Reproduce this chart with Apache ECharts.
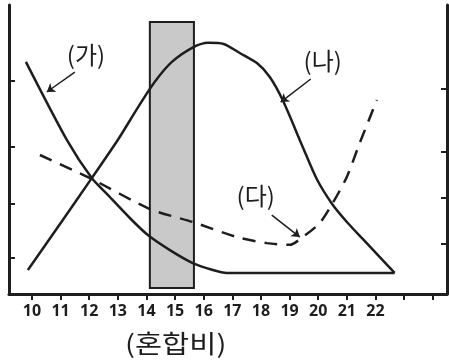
<!DOCTYPE html>
<html style="height: 100%">
<head>
<meta charset="utf-8">
<script src="https://cdn.jsdelivr.net/npm/echarts@6/dist/echarts.min.js"></script>
</head>
<body style="height: 100%; margin: 0; background: #fff">
<div id="container" style="width: 449px; height: 362px"></div>
<script>
// mixing ratio on x, relative level on y (0..100)
var curveGa = [[9.79, 80.3], [11.22, 53.3], [12.09, 40.1], [12.65, 34.3], [13.42, 26.3], [14.05, 20.4],
               [14.82, 15.2], [15.62, 10.7], [16.32, 8.3], [16.81, 7.3], [22.67, 7.3]];
var curveNa = [[9.86, 8.3], [11.0, 24.5], [12.09, 40.1], [13.0, 53.3], [13.7, 64.5], [14.3, 73.5],
               [14.89, 80.3], [15.66, 85.5], [16.15, 86.9], [16.7, 86.5], [17.26, 83.4], [17.86, 79.9],
               [18.31, 75.1], [18.76, 67.1], [19.46, 50.9], [19.95, 39.8], [20.5, 31.0], [21.05, 24.4],
               [21.59, 18.7], [22.67, 7.3]];
var curveDa = [[10.28, 48.1], [12.09, 39.8], [14.12, 29.4], [15.62, 24.9], [17.16, 19.7],
               [18.21, 17.6], [19.01, 17.0], [19.46, 19.7], [20.06, 24.6], [20.51, 31.5], [21.0, 40.5],
               [21.45, 52.2], [22.05, 67.1]];
var band = [14.12, 15.66];
var bandY = [2.1, 94.1];
var xTicks = [10, 11, 12, 13, 14, 15, 16, 17, 18, 19, 20, 21, 22, 23, 24];
var xLabels = [10, 11, 12, 13, 14, 15, 16, 17, 18, 19, 20, 21, 22];
var leftTicks = [12.5, 31.1, 50.9, 73.7];
var rightTicks = [17.3, 33.2, 49.1, 70.9];
var names = ['(가)', '(나)', '(다)'];
var namePos = [[11.89, 82.7], [20.16, 80.6], [17.82, 33.9]];
var arrows = [[[11.5, 76.8], [10.52, 69.9]], [[19.74, 74.4], [18.69, 66.4]], [[18.38, 27.3], [19.36, 19.7]]];

var ink = '#1e1e1e';
var dom = document.getElementById('container');
var myChart = echarts.init(dom, null, {renderer: 'canvas'});

function yAxisFor(pos, ticks) {
    return {
        type: 'value', position: pos, min: 0, max: 100,
        axisLine: {show: true, lineStyle: {color: ink, width: 3}},
        axisTick: {show: true, inside: true, length: 6, customValues: ticks, lineStyle: {color: ink, width: 2}},
        axisLabel: {show: false},
        splitLine: {show: false}
    };
}

var option = {
    animation: false,
    backgroundColor: '#fff',
    grid: {left: 9, right: 2, top: 5, bottom: 68},
    xAxis: {
        type: 'value', min: 9.2, max: 24.5,
        axisLine: {lineStyle: {color: ink, width: 3}},
        axisTick: {show: true, length: 6, customValues: xTicks, lineStyle: {color: ink, width: 2}},
        axisLabel: {
            customValues: xLabels, margin: 9, color: ink,
            fontFamily: 'Noto Sans', fontWeight: 'bold', fontSize: 16
        },
        splitLine: {show: false}
    },
    yAxis: [yAxisFor('left', leftTicks), yAxisFor('right', rightTicks)],
    graphic: [{
        type: 'text', x: 125, y: 331, scaleX: 1.18,
        style: {text: '(혼합비)', fill: ink, font: '25px "Noto Sans CJK KR"'}
    }],
    series: [
        {
            name: '가', type: 'line', data: curveGa, smooth: 0.25, symbol: 'none',
            lineStyle: {color: ink, width: 2.5},
            markArea: {
                silent: true,
                itemStyle: {color: '#c9c9c9', borderColor: ink, borderWidth: 2},
                data: [[{coord: [band[0], bandY[0]]}, {coord: [band[1], bandY[1]]}]]
            },
            z: 3
        },
        {
            name: '나', type: 'line', data: curveNa, smooth: 0.25, symbol: 'none',
            lineStyle: {color: ink, width: 2.5}, z: 3
        },
        {
            name: '다', type: 'line', data: curveDa, smooth: 0.25, symbol: 'none',
            lineStyle: {color: ink, width: 2.5, type: [13, 9]}, z: 3,
            markLine: {
                silent: true, symbol: ['none', 'arrow'], symbolSize: 8,
                lineStyle: {color: ink, width: 1.5, type: 'solid'},
                label: {show: false},
                data: arrows.map(function (a) { return [{coord: a[0]}, {coord: a[1]}]; })
            },
            markPoint: {
                silent: true, symbol: 'circle', symbolSize: 0,
                label: {show: true, position: 'inside', formatter: '{b}', color: ink,
                        fontFamily: 'Noto Sans CJK KR', fontSize: 24},
                data: names.map(function (n, i) { return {name: n, coord: namePos[i]}; })
            }
        }
    ]
};

myChart.setOption(option);
</script>
</body>
</html>
